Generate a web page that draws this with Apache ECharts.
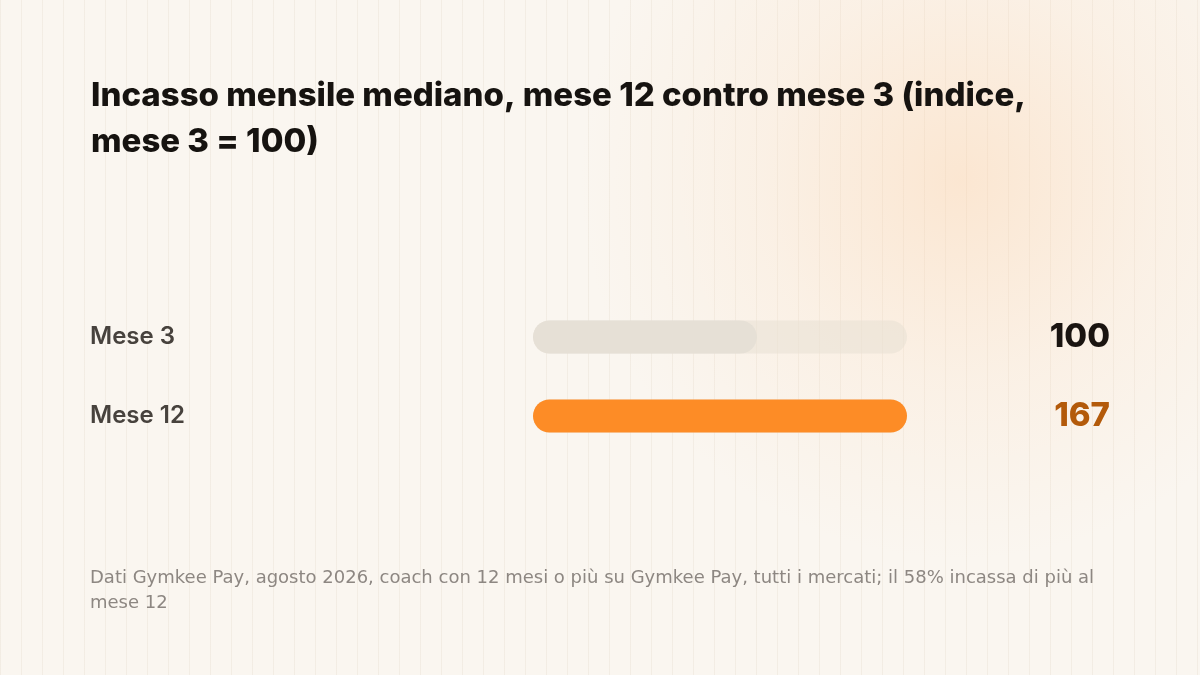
<!DOCTYPE html>
<html><head><meta charset="utf-8">
<script src="https://cdn.jsdelivr.net/npm/echarts@6/dist/echarts.min.js"></script>
<style>
html,body{margin:0;padding:0;width:1200px;height:675px;overflow:hidden;}
body{
background:
 radial-gradient(circle at 960px 180px, rgba(253,205,160,0.38) 0px, rgba(253,215,180,0.18) 200px, rgba(250,246,240,0) 380px),
 repeating-linear-gradient(90deg, rgba(225,215,200,0.3) 0px, rgba(225,215,200,0.3) 1px, rgba(0,0,0,0) 1px, rgba(0,0,0,0) 21px),
 #faf6f0;
}
#c{width:1200px;height:675px;}
</style></head>
<body><div id="c"></div>
<script>
const categories = ['Mese 3', 'Mese 12'];
const values = [100, 167];
const valueLabels = ['100', '167'];
const titleText = 'Incasso mensile mediano, mese 12 contro mese 3 (indice,\nmese 3 = 100)';
const noteText = 'Dati Gymkee Pay, agosto 2026, coach con 12 mesi o più su Gymkee Pay, tutti i mercati; il 58% incassa di più al\nmese 12';

const barColors = ['#e6e0d6', '#fd8c26'];
const valueColors = ['#1a1410', '#b35a0a'];

const chart = echarts.init(document.getElementById('c'), null, {renderer: 'canvas'});
chart.setOption({
  backgroundColor: 'transparent',
  animation: false,
  title: [
    {text: titleText, left: 86, top: 68,
     textStyle: {fontFamily: 'Inter', fontWeight: 800, fontSize: 33, lineHeight: 46, color: '#161310'}},
    {text: noteText, left: 85, top: 561,
     textStyle: {fontFamily: 'DejaVu Sans', fontWeight: 400, fontSize: 18, lineHeight: 25, color: '#8d8782'}}
  ],
  grid: {left: 533, right: 293, top: 297.5, bottom: 219.5, containLabel: false},
  xAxis: {type: 'value', min: 0, max: 167, show: false},
  yAxis: [
    {type: 'category', data: categories, inverse: true,
     axisLine: {show: false}, axisTick: {show: false},
     axisLabel: {align: 'left', margin: 443, fontFamily: 'Inter', fontWeight: 600, fontSize: 24, color: '#47423d'}},
    {type: 'category', data: categories, inverse: true, position: 'right',
     axisLine: {show: false}, axisTick: {show: false},
     axisLabel: {align: 'right', margin: 203,
       formatter: function (v) { const i = categories.indexOf(v); return '{v' + i + '|' + valueLabels[i] + '}'; },
       rich: {
         v0: {fontFamily: 'Inter', fontWeight: 800, fontSize: 33, color: valueColors[0]},
         v1: {fontFamily: 'Inter', fontWeight: 800, fontSize: 33, color: valueColors[1]}
       }}}
  ],
  series: [{
    type: 'bar',
    barWidth: 33,
    data: values.map((v, i) => ({value: v, itemStyle: {color: barColors[i]}})),
    itemStyle: {borderRadius: 16.5},
    showBackground: true,
    backgroundStyle: {color: 'rgba(232,224,212,0.55)', borderRadius: 16.5}
  }]
});
</script></body></html>
